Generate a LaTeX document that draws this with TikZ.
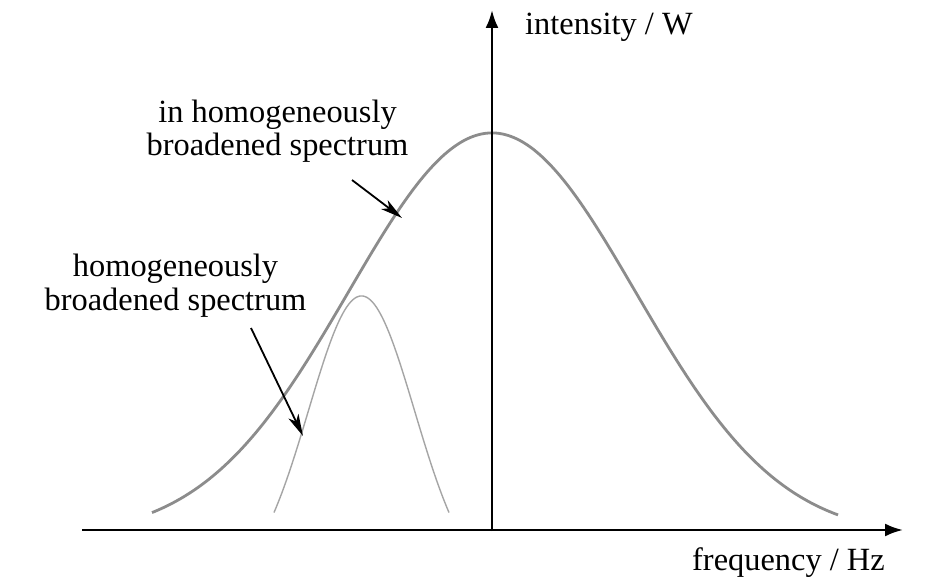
\documentclass[tikz,border=0pt]{standalone}
\usepackage{fontspec}
\setmainfont{Liberation Serif}
\usetikzlibrary{arrows.meta}
\definecolor{bigcurve}{RGB}{140,140,140}
\definecolor{smallcurve}{RGB}{165,165,165}
\begin{document}
\begin{tikzpicture}[x=1pt,y=-1pt,
  lbl/.style={font=\fontsize{32.4}{34}\selectfont, inner sep=0pt, anchor=base},
  axisline/.style={line width=2.6pt, black, -{Latex[length=18pt,width=13pt]}},
  pointer/.style={line width=1.8pt, black, -{Stealth[length=22pt,width=11pt,inset=6pt]}},
  bigc/.style={line width=2.8pt, draw=bigcurve},
  smallc/.style={line width=1.4pt, draw=smallcurve}]
\fill[white] (0,0) rectangle (935,585);
\useasboundingbox (0,0) rectangle (935,585);
% axes
\coordinate (xstart) at (82,530);
\coordinate (xend) at (903,530);
\coordinate (O) at (492,531);
\coordinate (ytop) at (492,10);
% curves
\draw[bigc] plot[domain=152:838, samples=240, smooth, variable=\x]
  (\x, {537-404*exp(-(((\x-492)/100)^2)/4.12)});
\draw[smallc] plot[domain=274:449, samples=160, smooth, variable=\x]
  (\x, {587-291*exp(-(((\x-361.5)/100)^2)/0.5618)});
\draw[axisline] (xstart) -- (xend);
\draw[axisline] (O) -- (ytop);
% labels
\node[lbl] (l1a) at (277.5,123) {in homogeneously};
\node[lbl] (l1b) at (277.5,156) {broadened spectrum};
\node[lbl] (l2a) at (175.5,277) {homogeneously};
\node[lbl] (l2b) at (175.5,311) {broadened spectrum};
\node[lbl, anchor=base west] (ylab) at (525,35) {intensity / W};
\node[lbl, anchor=base west] (xlab) at (692,570) {frequency / Hz};
% pointers
\coordinate (p1s) at (352,180);
\coordinate (p1e) at (402,218);
\coordinate (p2s) at (251,328);
\coordinate (p2e) at (303,436);
\draw[pointer] (p1s) -- (p1e);
\draw[pointer] (p2s) -- (p2e);
\end{tikzpicture}
\end{document}
